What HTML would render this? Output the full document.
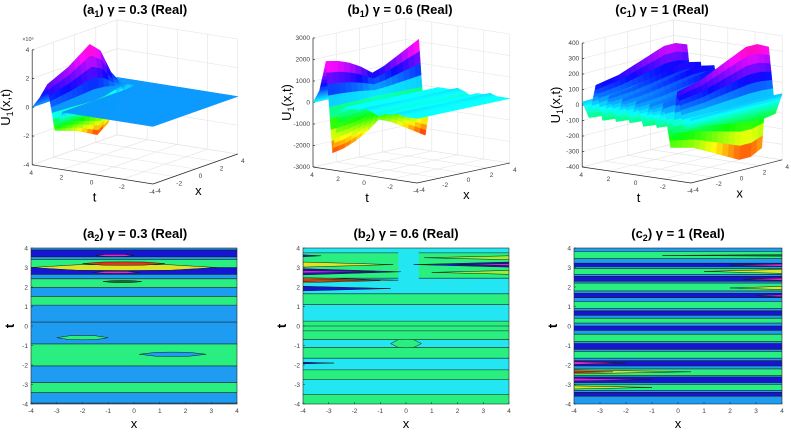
<!DOCTYPE html>
<html><head><meta charset="utf-8"><style>
html,body{margin:0;padding:0;background:#fff;}
svg{display:block;font-family:"Liberation Sans",sans-serif;}
</style></head><body>
<svg id="fig" width="791" height="432" viewBox="0 0 791 432" xmlns="http://www.w3.org/2000/svg">
<g id="titles" font-weight="bold" font-size="13" fill="#000" text-anchor="middle">
<text x="135" y="14">(a<tspan font-size="9" dy="3">1</tspan><tspan dy="-3">) γ = 0.3 (Real)</tspan></text>
<text x="400" y="14">(b<tspan font-size="9" dy="3">1</tspan><tspan dy="-3">) γ = 0.6 (Real)</tspan></text>
<text x="662" y="14">(c<tspan font-size="9" dy="3">1</tspan><tspan dy="-3">) γ = 1 (Real)</tspan></text>
<text x="135" y="238">(a<tspan font-size="9" dy="3">2</tspan><tspan dy="-3">) γ = 0.3 (Real)</tspan></text>
<text x="406" y="238">(b<tspan font-size="9" dy="3">2</tspan><tspan dy="-3">) γ = 0.6 (Real)</tspan></text>
<text x="678" y="238">(c<tspan font-size="9" dy="3">2</tspan><tspan dy="-3">) γ = 1 (Real)</tspan></text>
</g>
</svg>
<script>
// ---- data ----
const tVals=[-4,-3.5,-3,-2.5,-2,-1.5,-1,-0.5,0,0.5,1,1.5,2,2.5,3,3.5,4];
const xVals=[-4,-3,-2,-1,0,1,2,3,4];
const aT=[0,0,0,0,0,0,0,0,0,0,0,0,0,-2.7,3.5,1.5,0];
const aX=[0.5,0.6,0.7,0.85,1,0.8,0.3,0,0];
const bT=[0,0,0,0.1,0,0,-0.15,0,0.1,0,0,0,-0.3,-2.2,2.0,0.6,0];
const bX=[1,0.95,0.85,0.7,0.5,0.6,0.75,0.9,1.05];
const cT=[0.3,-1.2,3.5,-3.8,1.8,-1.5,1.4,-1.6,1.5,-1.4,1.6,-1.5,1.7,-1.6,2.8,-1.5,0.4];
const cX=[0.5,0.55,0.6,0.7,0.8,0.9,1,1,0.9];
const aTicksZ=[-4,-2,0,2,4], bTicksZ=[-3000,-2000,-1000,0,1000,2000,3000], cTicksZ=[-400,-300,-200,-100,0,100,200,300,400];
const axTicks=[-4,-2,0,2,4];

const a2Edges=[4,3.9,3.55,3.42,3.0,2.65,2.42,1.97,1.52,1.07,0.2,-0.92,-2.05,-2.9,-3.42,-3.95,-4];
const a2Cols=["LB","DB","LB","G","DB","LB","G","LB","G","LB","LB","G","LB","G","LB","LB"];
const a2Streaks=[["l",-4,3.2,3.0,0.14,"Y"],["l",-2,1.2,3.2,0.08,"R"],["l",-1.5,0,3.62,0.05,"M"],["l",-1.6,0.2,2.75,0.05,"M"],["l",-1.2,0.3,2.28,0.05,"DG"],["l",0.2,2.8,-1.45,0.1,"LB"],["l",-3,-1,-0.6,0.1,"G"]];
const b2Edges=[4,3.75,2.45,1.65,1.1,0.25,0,-0.25,-0.7,-1.1,-1.65,-2.25,-2.75,-3.5,-4];
const b2Cols=["C","G","C","G","C","G","G","G","C","G","C","G","C","G"];
const b2Streaks=[["r",-0.3,0.5,3.8,2.3,"C"],["wl",-4,-3.3,3.6,0.05,"DB"],["wl",-4,-0.5,3.15,0.13,"Y"],["wl",-4,-0.2,2.78,0.16,"DB"],["wl",-4,-1.2,2.78,0.06,"M"],["wl",-4,-0.3,2.35,0.13,"Y"],["wl",-4,-1,2.35,0.08,"R"],["wl",-4,-0.6,1.92,0.12,"DB"],["wr",0.7,4,3.5,0.1,"YG"],["wr",0.3,4,3.15,0.13,"DB"],["wr",2,4,3.15,0.05,"M"],["wr",1,4,2.75,0.1,"YG"],["wl",-4,-2.8,-1.9,0.04,"DB"],["l",-0.6,0.6,-0.9,0.2,"G"]];
const c2Edges=[4,3.82,3.45,3.22,3.05,2.95,2.65,2.55,2.3,2.2,1.8,1.68,1.45,1.25,0.9,0.78,0.55,0.4,0.15,0,-0.22,-0.42,-0.8,-0.9,-1.2,-1.3,-1.65,-1.78,-2.05,-2.2,-2.55,-2.62,-2.9,-3.0,-3.3,-3.4,-3.6,-4];
const c2Cols=["LB","G","LB","DB","LB","G","LB","DB","LB","G","LB","DB","LB","G","LB","DB","LB","G","LB","DB","LB","G","LB","DB","LB","G","LB","DB","LB","G","LB","DB","LB","G","LB","DB","LB"];
const c2Streaks=[["wr",2,4,3.12,0.06,"M"],["wr",1,4,2.8,0.1,"Y"],["wr",2.5,4,2.4,0.06,"M"],["wr",2,4,1.95,0.08,"Y"],["wr",3,4,1.55,0.05,"M"],["wl",-4,-2,-1.9,0.07,"M"],["wl",-4,0.5,-2.35,0.1,"Y"],["wl",-4,-2.5,-2.35,0.05,"R"],["wl",-4,-1,-2.75,0.07,"M"],["wl",-4,-1,-3.15,0.08,"Y"],["wr",-0.6,4,3.62,0.04,"DG"]];

const COL={LB:"#1e9cf2",DB:"#1616d2",G:"#28ef80",C:"#22e6f2",Y:"#dde626",R:"#e2381a",M:"#e024e0",YG:"#9cf032",DG:"#1a6a2a"};
const NS="http://www.w3.org/2000/svg";
const svg=document.getElementById('fig');
function el(tag,attrs,parent){const e=document.createElementNS(NS,tag);for(const k in attrs)e.setAttribute(k,attrs[k]);(parent||svg).appendChild(e);return e;}

// ---- 3D panels ----
function panel3D(id,F,xv,tv,H,zmin,zmax,zTicks,T,X,scale,zeroHue,expLabel){
  const g=el('g',{});
  
  
  const P=(x,t,z)=>[F[0]+(x+4)*xv[0]+(t+4)*tv[0], F[1]+(x+4)*xv[1]+(t+4)*tv[1]-(z-zmin)/(zmax-zmin)*H];
  const grid=el('g',{stroke:"#e3e3e3","stroke-width":0.6,fill:"none"},g);
  const L=(a,b,par,st)=>el('line',Object.assign({x1:a[0],y1:a[1],x2:b[0],y2:b[1]},st||{}),par);
  zTicks.forEach(z=>{L(P(-4,4,z),P(4,4,z),grid);L(P(4,4,z),P(4,-4,z),grid);});
  axTicks.forEach(v=>{L(P(v,4,zmin),P(v,4,zmax),grid);L(P(4,v,zmin),P(4,v,zmax),grid);L(P(v,4,zmin),P(v,-4,zmin),grid);L(P(-4,v,zmin),P(4,v,zmin),grid);});
  const ax=el('g',{stroke:"#262626","stroke-width":0.7},g);
  L(P(-4,4,zmin),P(-4,4,zmax),ax);L(P(-4,4,zmin),P(-4,-4,zmin),ax);L(P(-4,-4,zmin),P(4,-4,zmin),ax);
  const tx=el('g',{"font-size":6.5,fill:"#404040"},g);
  zTicks.forEach(z=>{const p=P(-4,4,z);L(p,[p[0]+2,p[1]],ax);const s=el('text',{x:p[0]-3,y:p[1]+2,"text-anchor":"end"},tx);s.textContent=z;});
  axTicks.forEach(v=>{const p=P(-4,v,zmin);const s=el('text',{x:p[0]-1,y:p[1]+10,"text-anchor":"middle"},tx);s.textContent=v;
    const q=P(v,-4,zmin);const s2=el('text',{x:q[0]+5,y:q[1]+9,"text-anchor":"middle"},tx);s2.textContent=v;});
  if(expLabel){const p=P(-4,4,zmax);const s=el('text',{x:p[0]-10,y:p[1]-9,"font-size":5.5},tx);s.textContent=expLabel;}
  const Z=T.map(a=>X.map(b=>a*b*scale));
  let dmin=Infinity,dmax=-Infinity;Z.forEach(r=>r.forEach(v=>{dmin=Math.min(dmin,v);dmax=Math.max(dmax,v);}));
  const hue=z=>z<0?zeroHue*(1-z/dmin):zeroHue+(325-zeroHue)*(z/dmax);
  const NT=8, NX=2;
  const subs=[];
  for(let i=0;i<tVals.length-1;i++)for(let j=0;j<xVals.length-1;j++){
    const z00=Z[i][j],z01=Z[i][j+1],z10=Z[i+1][j],z11=Z[i+1][j+1];
    const bil=(u,v)=>z00*(1-u)*(1-v)+z01*(1-u)*v+z10*u*(1-v)+z11*u*v;
    for(let a=0;a<NT;a++)for(let b=0;b<NX;b++){
      const u0=a/NT,u1=(a+1)/NT,v0=b/NX,v1=(b+1)/NX;
      const tt=u=>tVals[i]+(tVals[i+1]-tVals[i])*u, xx=v=>xVals[j]+(xVals[j+1]-xVals[j])*v;
      const c=[[u0,v0],[u0,v1],[u1,v1],[u1,v0]];
      const pts=c.map(([u,v])=>P(xx(v),tt(u),bil(u,v)));
      const zm=(bil(u0,v0)+bil(u0,v1)+bil(u1,v0)+bil(u1,v1))/4;
      subs.push([tt((u0+u1)/2)+xx((v0+v1)/2),pts,zm]);
    }
  }
  subs.sort((a,b)=>b[0]-a[0]);
  const sg=el('g',{},g);
  subs.forEach(([d,pts,zm])=>{
    const col=`hsl(${Math.max(0,hue(zm)).toFixed(1)},100%,52%)`;
    const q=el('polygon',{points:pts.map(p=>p[0].toFixed(1)+','+p[1].toFixed(1)).join(' '),fill:col,stroke:col,"stroke-width":0.4},sg);
    
    
  });
  const pz=P(-4,4,(zmin+zmax)/2);
  const yl=el('text',{x:pz[0]-22,y:pz[1],"font-size":13,"text-anchor":"middle",transform:`rotate(-90 ${pz[0]-22} ${pz[1]})`},g);
  yl.innerHTML='U<tspan font-size="9" dy="3">1</tspan><tspan dy="-3">(x,t)</tspan>';
  
  
  const pt=P(-4,0,zmin);const tl=el('text',{x:pt[0]+2,y:pt[1]+27,"font-size":13,"text-anchor":"middle"},g);tl.textContent='t';
  
  
  const px=P(0,-4,zmin);const xl=el('text',{x:px[0]+3,y:px[1]+26,"font-size":13,"text-anchor":"middle"},g);xl.textContent='x';
  
  
}
panel3D('a1',[153,184],[10.6,-3.75],[-15.1,-2.4],115,-4,4,aTicksZ,aT,aX,1,205,'×10⁵');
panel3D('b1',[417,183],[11.6,-2.5],[-13,-2],129,-3000,3000,bTicksZ,bT,bX,1000,180,null);
panel3D('c1',[691,183],[11.4,-2.9],[-13.6,-2],124,-400,400,cTicksZ,cT,cX,100,185,null);

// ---- contour panels ----
function contour(id,x0,x1,y0,y1,edges,cols,streaks){
  const g=el('g',{});
  
  
  const XS=x=>x0+(x+4)/8*(x1-x0), TS=t=>y1-(t+4)/8*(y1-y0);
  const clip=el('clipPath',{id:'clip'+id},g);el('rect',{x:x0,y:y0,width:x1-x0,height:y1-y0},clip);
  const cg=el('g',{"clip-path":`url(#clip${id})`},g);
  for(let i=0;i<cols.length;i++){
    const r=el('rect',{x:x0,y:TS(edges[i]),width:x1-x0,height:TS(edges[i+1])-TS(edges[i]),fill:COL[cols[i]]},cg);
    
    
  }
  for(let i=1;i<edges.length-1;i++)el('line',{x1:x0,x2:x1,y1:TS(edges[i]),y2:TS(edges[i]),stroke:"#1a1a1a","stroke-width":0.6},cg);
  streaks.forEach(s=>{
    const [k,a,b,t,h,c]=s;let pts;
    if(k==='r'){
      const r=el('rect',{x:XS(a),y:TS(t),width:XS(b)-XS(a),height:TS(h)-TS(t),fill:COL[c]},cg);
      
      return;}
    if(k==='l'){const m=(a+b)/2;pts=[[a,t],[m-(b-a)/4,t+h],[m,t+h*1.1],[m+(b-a)/4,t+h],[b,t],[m+(b-a)/4,t-h],[m,t-h*1.1],[m-(b-a)/4,t-h]];}
    else if(k==='wl'){pts=[[a,t+h],[b,t],[a,t-h]];}
    else {pts=[[a,t],[b,t+h],[b,t-h]];}
    const p=el('polygon',{points:pts.map(q=>XS(q[0])+','+TS(q[1])).join(' '),fill:COL[c],stroke:"#1a1a1a","stroke-width":0.5},cg);
    
    
  });
  el('rect',{x:x0,y:y0,width:x1-x0,height:y1-y0,fill:"none",stroke:"#262626","stroke-width":0.6},g);
  const tg=el('g',{"font-size":6.5,fill:"#404040"},g);
  for(let v=-4;v<=4;v++){
    el('line',{x1:XS(v),x2:XS(v),y1:y1,y2:y1-2,stroke:"#262626","stroke-width":0.5},g);
    el('line',{x1:x0,x2:x0+2,y1:TS(v),y2:TS(v),stroke:"#262626","stroke-width":0.5},g);
    const s=el('text',{x:XS(v),y:y1+9,"text-anchor":"middle"},tg);s.textContent=v;
    
    
    const s2=el('text',{x:x0-3,y:TS(v)+2.5,"text-anchor":"end"},tg);s2.textContent=v;
    
    
  }
  const xl=el('text',{x:(x0+x1)/2,y:y1+24,"font-size":13,"text-anchor":"middle"},g);xl.textContent='x';
  
  
  const yl=el('text',{x:x0-17,y:(y0+y1)/2,"font-size":13,"font-weight":"bold","text-anchor":"middle",transform:`rotate(-90 ${x0-17} ${(y0+y1)/2})`},g);yl.textContent='t';
  
  
}
contour('a2',31,237,248,404,a2Edges,a2Cols,a2Streaks);
contour('b2',303,509,248,404,b2Edges,b2Cols,b2Streaks);
contour('c2',574,782,248,404,c2Edges,c2Cols,c2Streaks);
</script>
</body></html>
